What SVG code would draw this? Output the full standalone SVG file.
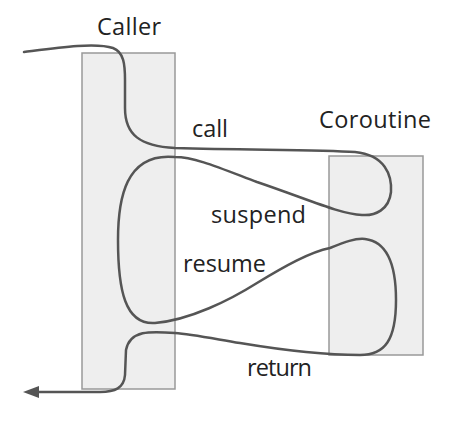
<svg xmlns="http://www.w3.org/2000/svg" width="469" height="443" viewBox="0 0 469 443">
<style>
.box{fill:#eeeeee;stroke:#999999;stroke-width:1.5}
.lbl{font-family:"Open Sans","Liberation Sans",sans-serif;font-size:23.5px;fill:#222222}
.flow{fill:none;stroke:#555555;stroke-width:2.5;stroke-linecap:round;stroke-linejoin:round}
</style>
<defs>
<marker id="arr" viewBox="0 0 16 12" refX="2" refY="6" markerWidth="16" markerHeight="12" markerUnits="userSpaceOnUse" orient="auto">
<path d="M0,0 L16,6 L0,12 Z" fill="#555555"/>
</marker>
</defs>
<rect width="469" height="443" fill="#ffffff"/>
<g id="caller">
<rect class="box" x="82" y="53" width="93" height="336"/>
<text class="lbl" x="97" y="35" textLength="64" lengthAdjust="spacing">Caller</text>
</g>
<g id="coroutine">
<rect class="box" x="329" y="156" width="94" height="199"/>
<text class="lbl" x="319" y="128" textLength="112" lengthAdjust="spacing">Coroutine</text>
</g>
<g id="connectors">
<path class="flow" marker-end="url(#arr)" d="M24,52 C55,48 95,42 113,48 C124,52 125,65 125,80 L125,108 C125,135 140,146 175,148 C250,150 320,150 355,152 C385,155 392,175 391,192 C389,210 375,216 362,215 C340,214 310,200 257,182 C220,168 195,157 175,157 C125,152 118,200 118,240 C118,290 125,325 155,323 C190,320 230,300 257,283 C285,266 310,252 330,248 C345,242 355,238 365,239 C390,242 396,270 396,300 C396,340 385,355 360,355 C320,355 270,348 240,343 C210,338 190,334 175,333 C150,331 130,330 126,350 L125,375 C124,388 115,392 100,392 L37,392"/>
</g>
<g id="labels">
<text class="lbl" x="192" y="137" textLength="36" lengthAdjust="spacing">call</text>
<text class="lbl" x="211" y="223" textLength="95" lengthAdjust="spacing">suspend</text>
<text class="lbl" x="183" y="272" textLength="83" lengthAdjust="spacing">resume</text>
<text class="lbl" x="247" y="376" textLength="65" lengthAdjust="spacing">return</text>
</g>
</svg>
